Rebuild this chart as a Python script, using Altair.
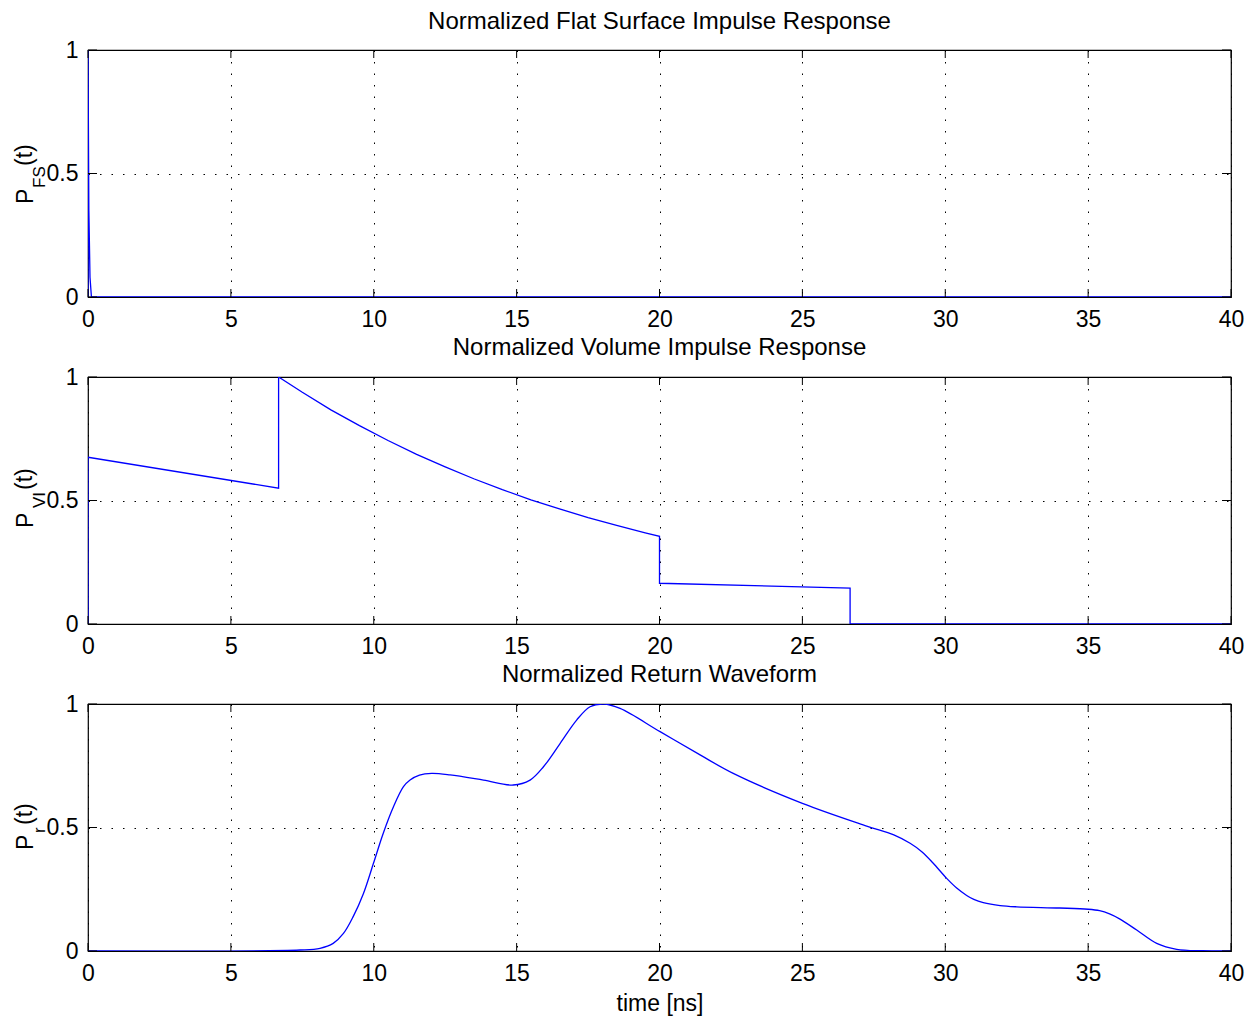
import altair as alt
import pandas as pd

FONT = "Liberation Sans"
W, H = 1143, 247

x_ticks = [0, 5, 10, 15, 20, 25, 30, 35, 40]
y_ticks = [0, 0.5, 1]

# Panel 1: flat surface impulse response
t_fs = [0, 0.0, 0.03, 0.07, 0.12, 40]
p_fs = [0, 1.0, 0.35, 0.08, 0.0, 0.0]

# Panel 2: volume impulse response
t_vi = [0, 0, 6.67, 6.67, 7.5, 8.5, 9.5, 10.5, 11.5, 12.5, 13.5, 14.5, 15.5,
        16.5, 17.5, 18.5, 19.5, 20, 20, 26.67, 26.67, 40]
p_vi = [0, 0.675, 0.55, 1.0, 0.938, 0.867, 0.803, 0.743, 0.687, 0.636, 0.588,
        0.544, 0.503, 0.466, 0.431, 0.399, 0.369, 0.355, 0.165, 0.145, 0.0, 0.0]

# Panel 3: return waveform
t_r = [0, 7.42, 8.12, 8.58, 8.94, 9.28, 9.64, 9.99, 10.33, 10.69, 11.04, 11.27,
       11.6, 12.03, 12.67, 13.84, 14.88, 15.47, 15.94, 16.52, 17.1, 17.57,
       18.04, 18.62, 20.02, 21.42, 22.58, 25.0, 27.25, 28.2, 28.77, 29.2,
       29.58, 30.05, 30.4, 30.75, 31.0, 31.33, 31.92, 32.5, 34.0, 35.0, 35.4,
       35.75, 36.1, 36.7, 37.4, 38.1, 39.0, 40]
p_r = [0, 0.004, 0.011, 0.031, 0.071, 0.139, 0.233, 0.355, 0.476, 0.584, 0.665,
       0.692, 0.712, 0.719, 0.713, 0.692, 0.672, 0.692, 0.746, 0.84, 0.935,
       0.989, 1.0, 0.982, 0.888, 0.794, 0.719, 0.598, 0.506, 0.47, 0.436, 0.40,
       0.355, 0.294, 0.255, 0.225, 0.209, 0.196, 0.184, 0.179, 0.174, 0.169,
       0.163, 0.15, 0.13, 0.085, 0.031, 0.007, 0.001, 0]

titles = ["Normalized Flat Surface Impulse Response",
          "Normalized Volume Impulse Response",
          "Normalized Return Waveform"]
subs = ["FS", "VI", "r"]
# start positions (along the rotated label) for P, subscript, (t)
label_pos = [(154, 138, 116), (151, 131, 113), (146, 129, 121)]

xs = alt.Scale(domain=[0, 40], nice=False, zero=False)
ys = alt.Scale(domain=[0, 1], nice=False, zero=False)


def panel(t, p, title, sub, pos, last, offset):
    df = pd.DataFrame({"t": t, "p": p, "i": list(range(len(t)))})
    xaxis = alt.Axis(values=x_ticks, grid=True, gridColor="black", gridOpacity=1,
                     gridDash=[1.5, 10], gridWidth=1, ticks=False, domain=False,
                     labelFontSize=23, labelFont=FONT, labelColor="black",
                     labelPadding=11, labelFlush=False, labelOverlap=False,
                     format="~g",
                     title="time [ns]" if last else None,
                     titleFontSize=23, titleFont=FONT, titleFontWeight="normal",
                     titleColor="black", titlePadding=7)
    yaxis = alt.Axis(values=y_ticks, grid=True, gridColor="black", gridOpacity=1,
                     gridDash=[1.5, 10], gridWidth=1, ticks=False, domain=False,
                     labelFontSize=23, labelFont=FONT, labelColor="black",
                     labelPadding=10, labelFlush=False, labelOverlap=False,
                     format="~g", title=None)
    line = alt.Chart(df).mark_line(color="#0000ff", strokeWidth=1.3, clip=True,
                                   interpolate="catmull-rom" if last else "linear").encode(
        x=alt.X("t:Q", scale=xs, axis=xaxis),
        y=alt.Y("p:Q", scale=ys, axis=yaxis),
        order="i:Q",
    )
    xt = pd.DataFrame({"t": x_ticks})
    yt = pd.DataFrame({"p": y_ticks})
    tb = alt.Chart(xt).mark_rule(color="black", strokeWidth=1).encode(
        x=alt.X("t:Q", scale=xs, axis=xaxis), y=alt.value(H), y2=alt.value(H - 8))
    tt = alt.Chart(xt).mark_rule(color="black", strokeWidth=1).encode(
        x=alt.X("t:Q", scale=xs, axis=xaxis), y=alt.value(0), y2=alt.value(8))
    tl = alt.Chart(yt).mark_rule(color="black", strokeWidth=1).encode(
        y=alt.Y("p:Q", scale=ys, axis=yaxis), x=alt.value(0), x2=alt.value(9))
    tr = alt.Chart(yt).mark_rule(color="black", strokeWidth=1).encode(
        y=alt.Y("p:Q", scale=ys, axis=yaxis), x=alt.value(W), x2=alt.value(W - 9))

    p_txt = alt.Chart(pd.DataFrame({"s": ["P"]})).mark_text(
        angle=270, align="left", baseline="alphabetic", fontSize=23, font=FONT,
        color="black").encode(x=alt.value(-55), y=alt.value(pos[0]), text="s:N")
    s_txt = alt.Chart(pd.DataFrame({"s": [sub]})).mark_text(
        angle=270, align="left", baseline="alphabetic", fontSize=17, font=FONT,
        color="black").encode(x=alt.value(-43), y=alt.value(pos[1]), text="s:N")
    t_txt = alt.Chart(pd.DataFrame({"s": ["(t)"]})).mark_text(
        angle=270, align="left", baseline="alphabetic", fontSize=23, font=FONT,
        color="black").encode(x=alt.value(-56), y=alt.value(pos[2]), text="s:N")

    return alt.layer(line, tb, tt, tl, tr, p_txt, s_txt, t_txt).properties(
        width=W, height=H,
        title=alt.TitleParams(title, fontSize=24, font=FONT, fontWeight="normal",
                              color="black", anchor="middle", offset=offset),
    )


panels = [
    panel(t_fs, p_fs, titles[0], subs[0], label_pos[0], False, 5),
    panel(t_vi, p_vi, titles[1], subs[1], label_pos[1], False, 6),
    panel(t_r, p_r, titles[2], subs[2], label_pos[2], True, 6),
]

chart = alt.vconcat(*panels, spacing=80, bounds="flush").properties(
    padding={"left": 13, "top": 9, "right": 4, "bottom": 1},
    background="white",
).configure_view(stroke="black", strokeWidth=1.2)

chart.save("out.html", embed_options={"renderer": "svg", "actions": False})
